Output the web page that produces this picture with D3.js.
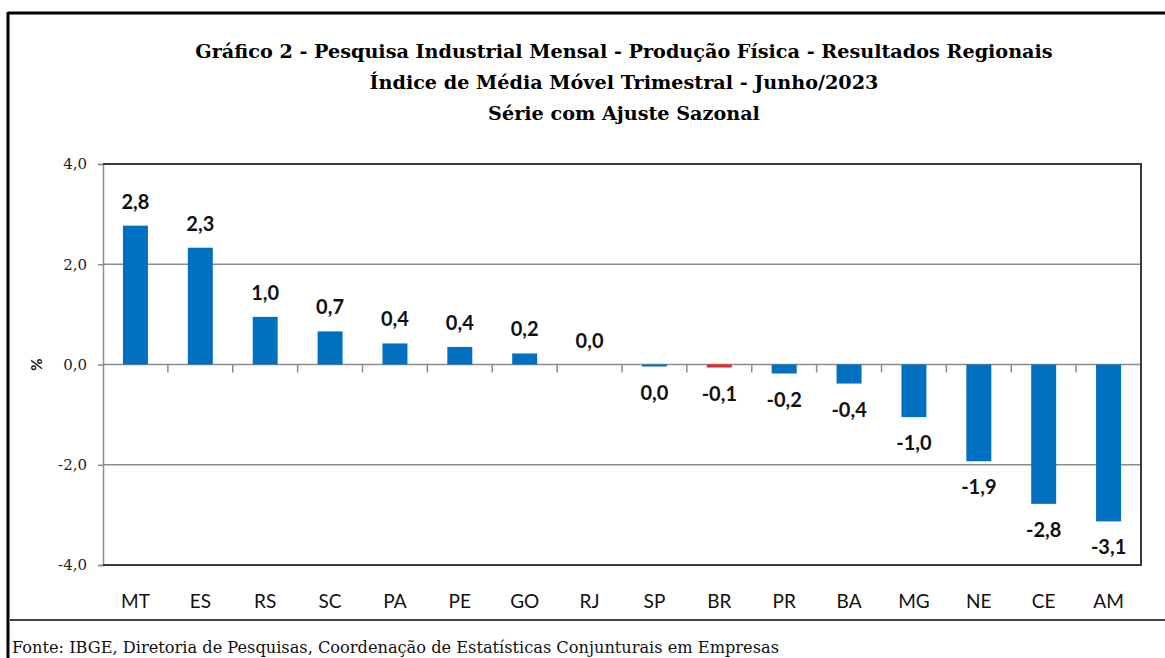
<!DOCTYPE html>
<html>
<head>
<meta charset="utf-8">
<script src="https://cdn.jsdelivr.net/npm/d3@7"></script>
<style>
  body { margin: 0; background: #fff; }
  svg { display: block; }
</style>
</head>
<body>
<div id="chart"></div>
<script>
// states ordered as in the IBGE chart
var categories = ["MT", "ES", "RS", "SC", "PA", "PE", "GO", "RJ", "SP", "BR", "PR", "BA", "MG", "NE", "CE", "AM"];
var values = [2.77, 2.33, 0.95, 0.66, 0.42, 0.35, 0.22, 0.0, -0.04, -0.06, -0.18, -0.38, -1.05, -1.93, -2.78, -3.13];
var valueLabels = ["2,8", "2,3", "1,0", "0,7", "0,4", "0,4", "0,2", "0,0", "0,0", "-0,1", "-0,2", "-0,4", "-1,0", "-1,9", "-2,8", "-3,1"];
var yTicks = [-4, -2, 0, 2, 4];
var yTickLabels = ["-4,0", "-2,0", "0,0", "2,0", "4,0"];
var titleLines = [
  "Gráfico 2 - Pesquisa Industrial Mensal - Produção Física - Resultados Regionais",
  "Índice de Média Móvel Trimestral - Junho/2023",
  "Série com Ajuste Sazonal"
];
var source = "Fonte: IBGE, Diretoria de Pesquisas, Coordenação de Estatísticas Conjunturais em Empresas";

var W = 1165, H = 658;
var plot = {left: 103, right: 1141, top: 164, bottom: 565};

var svg = d3.select("#chart").append("svg")
  .attr("width", W)
  .attr("height", H);

// outer frame (top + left black, bottom grey rule)
svg.append("line").attr("x1", 8).attr("x2", W).attr("y1", 13).attr("y2", 13)
  .attr("stroke", "#000").attr("stroke-width", 3);
svg.append("line").attr("x1", 8).attr("x2", 8).attr("y1", 12).attr("y2", H)
  .attr("stroke", "#000").attr("stroke-width", 3);
svg.append("line").attr("x1", 10).attr("x2", W).attr("y1", 620).attr("y2", 620)
  .attr("stroke", "#444").attr("stroke-width", 2);

// title
svg.selectAll(".title")
  .data(titleLines).enter()
  .append("text")
  .attr("class", "title")
  .attr("x", 624)
  .attr("y", function(d, i) { return 58 + i * 31; })
  .attr("text-anchor", "middle")
  .attr("font-family", "'DejaVu Serif', serif")
  .attr("font-weight", "bold")
  .attr("font-size", 19.2)
  .attr("fill", "#000")
  .text(function(d) { return d; });

var x = d3.scaleBand()
  .domain(categories)
  .range([plot.left, plot.right])
  .paddingInner(0.615)
  .paddingOuter(0.3075);

var xTicks = d3.scaleBand()
  .domain(categories)
  .range([plot.left, plot.right]);

var y = d3.scaleLinear()
  .domain([-4, 4])
  .range([plot.bottom, plot.top]);

// grid lines
svg.selectAll(".grid")
  .data([-2, 0, 2]).enter()
  .append("line")
  .attr("class", "grid")
  .attr("x1", plot.left).attr("x2", plot.right)
  .attr("y1", function(d) { return y(d); })
  .attr("y2", function(d) { return y(d); })
  .attr("stroke", "#8c8c8c")
  .attr("stroke-width", 1.5);

// y axis
var yAxis = d3.axisLeft(y)
  .tickValues(yTicks)
  .tickSize(5)
  .tickPadding(11)
  .tickFormat(function(d, i) { return yTickLabels[i]; });

var gy = svg.append("g")
  .attr("transform", "translate(" + plot.left + ",0)")
  .call(yAxis);
gy.select(".domain").attr("stroke", "#8c8c8c").attr("stroke-width", 1.5);
gy.selectAll(".tick line").attr("stroke", "#8c8c8c").attr("stroke-width", 1.5);
gy.selectAll(".tick text")
  .attr("font-family", "'DejaVu Serif', serif")
  .attr("font-size", 15)
  .attr("fill", "#222");

// category ticks on the zero line
var boundaries = categories.slice(1).map(function(c) { return xTicks(c); });
svg.selectAll(".xtick")
  .data(boundaries).enter()
  .append("line")
  .attr("class", "xtick")
  .attr("x1", function(d) { return d; })
  .attr("x2", function(d) { return d; })
  .attr("y1", y(0))
  .attr("y2", y(0) + 8)
  .attr("stroke", "#8c8c8c")
  .attr("stroke-width", 1.5);

// frame top / right / bottom
svg.append("path")
  .attr("d", "M" + plot.left + "," + plot.top + "H" + plot.right + "V" + plot.bottom + "H" + plot.left)
  .attr("fill", "none")
  .attr("stroke", "#3a3a3a")
  .attr("stroke-width", 2);

// bars
svg.selectAll(".bar")
  .data(values).enter()
  .append("rect")
  .attr("class", "bar")
  .attr("x", function(d, i) { return x(categories[i]); })
  .attr("width", x.bandwidth())
  .attr("y", function(d) { return y(Math.max(0, d)); })
  .attr("height", function(d) { return Math.abs(y(d) - y(0)); })
  .attr("fill", function(d, i) { return categories[i] === "BR" ? "#e8262a" : "#0070c0"; });

// value labels
svg.selectAll(".bar-label")
  .data(values).enter()
  .append("text")
  .attr("class", "bar-label")
  .attr("text-anchor", "middle")
  .attr("x", function(d, i) { return x(categories[i]) + x.bandwidth() / 2; })
  .attr("y", function(d) { return d >= 0 ? y(d) - 17 : y(d) + 33; })
  .attr("font-family", "Lato, sans-serif")
  .attr("font-weight", "bold")
  .attr("font-size", 20)
  .attr("fill", "#111")
  .text(function(d, i) { return valueLabels[i]; });

// category labels
svg.selectAll(".cat")
  .data(categories).enter()
  .append("text")
  .attr("class", "cat")
  .attr("text-anchor", "middle")
  .attr("x", function(d) { return x(d) + x.bandwidth() / 2; })
  .attr("y", 608)
  .attr("font-family", "Lato, sans-serif")
  .attr("font-size", 19)
  .attr("fill", "#111")
  .text(function(d) { return d; });

// y axis title
svg.append("text")
  .attr("transform", "translate(42," + y(0) + ") rotate(-90)")
  .attr("text-anchor", "middle")
  .attr("font-family", "Lato, sans-serif")
  .attr("font-weight", "bold")
  .attr("font-size", 15)
  .attr("fill", "#111")
  .text("%");

// source
svg.append("text")
  .attr("x", 12)
  .attr("y", 653)
  .attr("font-family", "'DejaVu Serif', serif")
  .attr("font-size", 16.2)
  .attr("fill", "#111")
  .text(source);
</script>
</body>
</html>
